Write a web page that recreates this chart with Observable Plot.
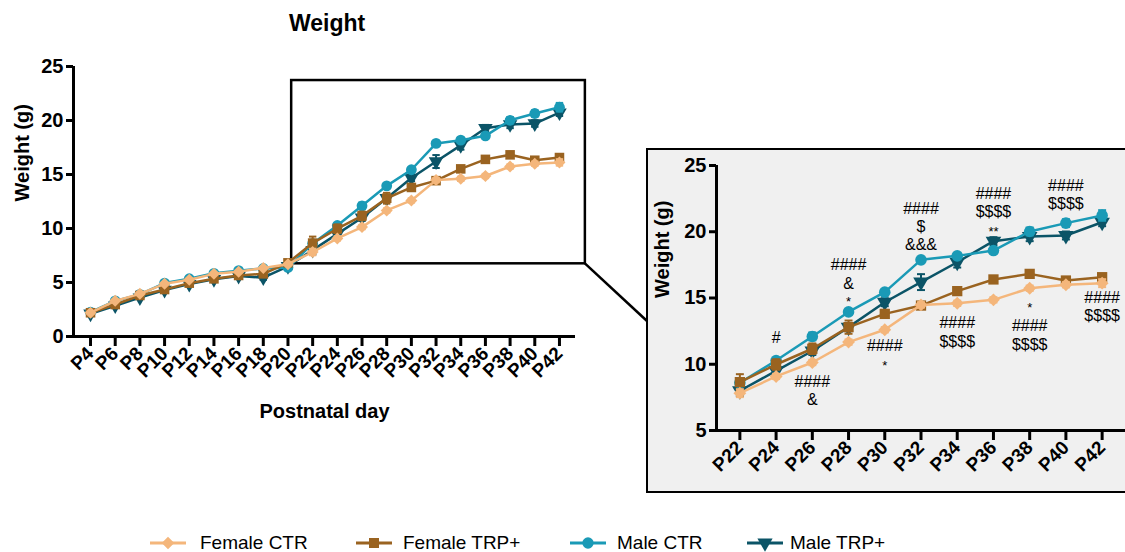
<!DOCTYPE html>
<html><head><meta charset="utf-8">
<script src="https://cdn.jsdelivr.net/npm/d3@7"></script>
<script src="https://cdn.jsdelivr.net/npm/@observablehq/plot@0.6"></script>
<style>
html,body{margin:0;padding:0;background:#fff;}
#root{position:relative;width:1125px;height:552px;overflow:hidden;font-family:"Liberation Sans",Arial,sans-serif;color:#000;}
#title{position:absolute;left:289px;top:10px;font-size:23px;font-weight:bold;}
#insetBox{position:absolute;left:646px;top:148px;width:500px;height:345px;box-sizing:border-box;border:2px solid #000;background:#f0f0f0;}
.abs{position:absolute;}
.legtext{position:absolute;font-size:19px;top:532px;white-space:nowrap;}
</style></head>
<body><div id="root"><div id="title">Weight</div><div id="insetBox"></div></div>
<script>
// ---------------- data ----------------
const days = [4,6,8,10,12,14,16,18,20,22,24,26,28,30,32,34,36,38,40,42];
const seriesNames = ["Female CTR","Female TRP+","Male CTR","Male TRP+"];
const seriesColors = ["#F4B67B","#9A6320","#1A9AB6","#0B5467"];
const femaleCTR = [2.2,3.3,3.95,4.88,5.25,5.8,6.0,6.35,6.7,7.82,9.08,10.13,11.67,12.6,14.48,14.6,14.86,15.74,16.0,16.12];
const femaleTRP = [2.2,2.96,3.8,4.35,4.94,5.34,5.65,5.8,6.82,8.65,9.98,11.17,12.8,13.8,14.43,15.52,16.4,16.82,16.32,16.57];
const maleCTR   = [2.25,3.3,3.9,4.95,5.35,5.85,6.1,6.3,6.4,8.6,10.28,12.1,13.95,15.44,17.88,18.18,18.58,20.02,20.65,21.23];
const maleTRP   = [2.1,2.85,3.6,4.3,4.85,5.3,5.6,5.45,6.5,8.0,9.5,11.0,12.8,14.68,16.2,17.7,19.29,19.64,19.72,20.72];
const femaleCTRsem = [0.1,0.1,0.1,0.1,0.1,0.1,0.1,0.1,0.1,0.3,0.2,0.2,0.2,0.2,0.2,0.2,0.2,0.2,0.2,0.3];
const femaleTRPsem = [0.1,0.15,0.1,0.1,0.1,0.1,0.1,0.15,0.1,0.6,0.4,0.4,0.5,0.3,0.2,0.2,0.2,0.2,0.2,0.2];
const maleCTRsem   = [0.1,0.1,0.1,0.1,0.1,0.1,0.1,0.1,0.1,0.2,0.2,0.3,0.2,0.2,0.2,0.2,0.2,0.3,0.3,0.4];
const maleTRPsem   = [0.1,0.1,0.1,0.1,0.1,0.1,0.1,0.2,0.1,0.4,0.4,0.3,0.3,0.3,0.6,0.4,0.3,0.35,0.3,0.3];
const yTicksMain = [0,5,10,15,20,25];
const yTicksInset = [5,10,15,20,25];
const insetFirstDay = 22;
const zoomDays = [20.3, 44.1];
const zoomWeights = [6.73, 23.7];
// significance annotations (inset)
const annoDay    = [24, 26,26, 28,28,28, 30,30, 32,32,32, 34,34, 36,36,36, 38,38,38, 40,40, 42,42];
const annoWeight = [12.0, 8.7,7.3, 17.5,16.1,14.72, 11.4,9.88, 21.7,20.4,19.0, 13.1,11.7, 22.86,21.5,19.98, 14.28,12.9,11.5, 23.5,22.1, 14.98,13.66];
const annoText   = ["#", "####","&", "####","&","*", "####","*", "####","$","&&&", "####","$$$$", "####","$$$$","**", "*","####","$$$$", "####","$$$$", "####","$$$$"];

// ---------------- build tables ----------------
const triDown = {draw(ctx, size){
  const a = Math.sqrt(4*size/Math.sqrt(3)), h = Math.sqrt(3)/2*a;
  ctx.moveTo(-a/2, -h/3); ctx.lineTo(a/2, -h/3); ctx.lineTo(0, 2*h/3); ctx.closePath();
}};
const seriesSymbols = ["diamond2","square","circle",triDown];
const seriesValues = [femaleCTR, femaleTRP, maleCTR, maleTRP];
const seriesSem = [femaleCTRsem, femaleTRPsem, maleCTRsem, maleTRPsem];
const rows = seriesNames.map((name, k) => days.map((day, i) => ({series: name, day, w: seriesValues[k][i], sem: seriesSem[k][i]})));
const annos = annoDay.map((d, i) => ({day: d, w: annoWeight[i], t: annoText[i]}));
const drawOrder = [3, 2, 1, 0];

function seriesMarks(filterFn, capHalf, r) {
  const marks = [];
  for (const k of drawOrder) {
    const data = rows[k].filter(filterFn);
    const c = seriesColors[k];
    marks.push(
      Plot.ruleX(data, {x: "day", y1: d => d.w - d.sem, y2: d => d.w + d.sem, stroke: c, strokeWidth: 2}),
      Plot.link(data, {x1: d => d.day - capHalf, x2: d => d.day + capHalf, y1: d => d.w + d.sem, y2: d => d.w + d.sem, stroke: c, strokeWidth: 2}),
      Plot.link(data, {x1: d => d.day - capHalf, x2: d => d.day + capHalf, y1: d => d.w - d.sem, y2: d => d.w - d.sem, stroke: c, strokeWidth: 2}),
      Plot.line(data, {x: "day", y: "w", stroke: c, strokeWidth: 2.5}),
      Plot.dot(data, {x: "day", y: "w", fill: c, stroke: "none", r: r, symbol: seriesSymbols[k]})
    );
  }
  return marks;
}

const font = '"Liberation Sans", Arial, sans-serif';
// ---------------- main chart ----------------
const mainXDomain = [2.62, 43.3];
const main = Plot.plot({
  width: 600, height: 440,
  marginLeft: 73, marginRight: 25, marginTop: 66, marginBottom: 104,
  x: {domain: mainXDomain}, y: {domain: [0, 25]},
  style: {fontFamily: font, background: "transparent", overflow: "visible", color: "#000"},
  marks: [
    Plot.rect([{x1: zoomDays[0], x2: zoomDays[1], y1: zoomWeights[0], y2: zoomWeights[1]}], {x1: "x1", x2: "x2", y1: "y1", y2: "y2", fill: "none", stroke: "#000", strokeWidth: 2.5}),
    Plot.axisY({ticks: yTicksMain, tickSize: 7, strokeWidth: 3, tickPadding: 3, fontSize: 20, fontWeight: "bold", label: null}),
    Plot.axisX({ticks: days, tickFormat: d => "P" + d, tickRotate: -45, tickSize: 10, strokeWidth: 3, tickPadding: 4, fontSize: 19, fontWeight: "bold", label: null}),
    Plot.ruleX([mainXDomain[0]], {stroke: "#000", strokeWidth: 3}),
    Plot.ruleY([0], {stroke: "#000", strokeWidth: 3}),
    ...seriesMarks(() => true, 0.3, 5.4),
    Plot.text(["Weight (g)"], {text: d => d, frameAnchor: "left", dx: -51, rotate: -90, fontSize: 20, fontWeight: "bold"}),
    Plot.text(["Postnatal day"], {text: d => d, frameAnchor: "bottom", dy: 81, fontSize: 20, fontWeight: "bold"})
  ]
});
main.classList.add("abs"); main.style.left = "0px"; main.style.top = "0px";
document.getElementById("root").appendChild(main);

// ---------------- inset ----------------
const insetXDomain = [20.71, 43.29];
const inset = Plot.plot({
  width: 478, height: 343,
  marginLeft: 69, marginRight: 0, marginTop: 16, marginBottom: 62,
  x: {domain: insetXDomain}, y: {domain: [5, 25]},
  style: {fontFamily: font, background: "transparent", overflow: "visible", color: "#000"},
  marks: [
    Plot.axisY({ticks: yTicksInset, tickSize: 7, strokeWidth: 3, tickPadding: 3, fontSize: 20, fontWeight: "bold", label: null}),
    Plot.axisX({ticks: days.filter(d => d >= insetFirstDay), tickFormat: d => "P" + d, tickRotate: -45, tickSize: 10, strokeWidth: 3, tickPadding: 4, fontSize: 19, fontWeight: "bold", label: null}),
    Plot.ruleX([insetXDomain[0]], {stroke: "#000", strokeWidth: 3}),
    Plot.ruleY([5], {stroke: "#000", strokeWidth: 3}),
    ...seriesMarks(d => d.day >= insetFirstDay, 0.22, 5.8),
    Plot.text(annos, {x: "day", y: "w", text: "t", fontSize: d => d.t.startsWith("*") ? 13 : 16, fontWeight: "normal"}),
    Plot.text(["Weight (g)"], {text: d => d, frameAnchor: "left", dx: -54, rotate: -90, fontSize: 20, fontWeight: "bold"})
  ]
});
inset.classList.add("abs"); inset.style.left = "647px"; inset.style.top = "149px";
document.getElementById("root").appendChild(inset);

// ---------------- connector line ----------------
const sx = main.scale("x"), sy = main.scale("y");
const ns = "http://www.w3.org/2000/svg";
const over = document.createElementNS(ns, "svg");
over.setAttribute("width", 1125); over.setAttribute("height", 552);
over.setAttribute("class", "abs"); over.style.left = "0px"; over.style.top = "0px"; over.style.pointerEvents = "none";
d3.select(over).append("line")
  .attr("x1", sx.apply(zoomDays[1])).attr("y1", sy.apply(zoomWeights[0]))
  .attr("x2", 647).attr("y2", 321)
  .attr("stroke", "#000").attr("stroke-width", 2.5);
document.getElementById("root").appendChild(over);

// ---------------- legend ----------------
const legSymbolLeft = [150, 356, 570, 747];
const legTextLeft = [200, 403, 617, 790];
const root = document.getElementById("root");
seriesNames.forEach((name, k) => {
  const s = document.createElementNS(ns, "svg");
  s.setAttribute("width", 36); s.setAttribute("height", 20);
  s.setAttribute("class", "abs"); s.style.left = legSymbolLeft[k] + "px"; s.style.top = "533px";
  const g = d3.select(s);
  g.append("line").attr("x1", 0).attr("x2", 36).attr("y1", 10).attr("y2", 10).attr("stroke", seriesColors[k]).attr("stroke-width", 3);
  const symType = typeof seriesSymbols[k] === "string"
    ? {diamond2: d3.symbolDiamond2, square: d3.symbolSquare, circle: d3.symbolCircle}[seriesSymbols[k]]
    : seriesSymbols[k];
  g.append("path").attr("transform", "translate(18,10)").attr("d", d3.symbol(symType, 100)()).attr("fill", seriesColors[k]);
  root.appendChild(s);
  const t = document.createElement("div");
  t.className = "legtext"; t.style.left = legTextLeft[k] + "px"; t.textContent = name;
  root.appendChild(t);
});
</script></body></html>
